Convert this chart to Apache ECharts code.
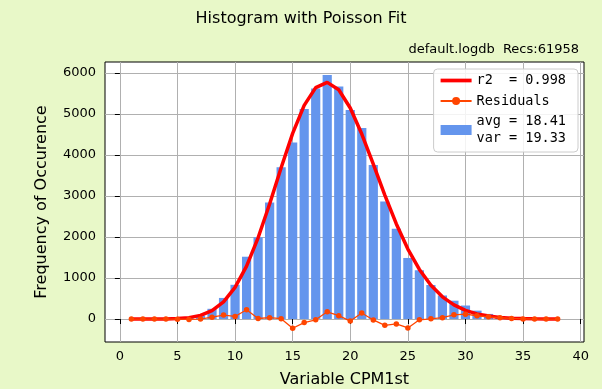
<!DOCTYPE html>
<html>
<head>
<meta charset="utf-8">
<script src="https://cdn.jsdelivr.net/npm/echarts@6/dist/echarts.min.js"></script>
<style>
html,body{margin:0;padding:0;background:#e8f8c8;overflow:hidden;}
#main{position:absolute;left:0;top:0;width:602px;height:389px;}
</style>
</head>
<body>
<div id="main"></div>
<script>
// Bin values (x)
const bins = [1,2,3,4,5,6,7,8,9,10,11,12,13,14,15,16,17,18,19,20,21,22,23,24,25,26,27,28,29,30,31,32,33,34,35,36,37,38];
// Histogram counts
const counts = [0,0,1,2,8,25,88,250,515,835,1520,1995,2840,3700,4305,5125,5625,5950,5675,5100,4660,3755,2870,2200,1490,1190,830,575,448,330,205,125,72,36,16,7,3,1];
// Poisson fit curve
const fitVals = [0.01,0.11,0.65,3.0,11,34,89,205,419,772,1292,1982,2806,3690,4529,5211,5644,5773,5593,5149,4513,3777,3023,2319,1708,1209,824,542,344,211,125,72,40,22,11.5,5.9,2.9,1.4];
// Residuals (counts - fit)
const residuals = [0,0,0,-1,-3,-9,-1,45,96,63,228,13,34,10,-224,-86,-19,177,82,-49,147,-22,-153,-119,-218,-19,6,33,104,119,80,53,32,14,4,1,0,0];
// Tick labels
const xTicks = [0,5,10,15,20,25,30,35,40];
const yTicks = [0,1000,2000,3000,4000,5000,6000];

const fitName = 'r2  = 0.998';
const resName = 'Residuals';
const barName = 'avg = 18.41\nvar = 19.33';

const chart = echarts.init(document.getElementById('main'), null, {renderer:'canvas', width:602, height:389});
const pair = (xs, ys) => xs.map((x,i)=>[x, ys[i]]);

chart.setOption({
  animation:false,
  backgroundColor:'#e8f8c8',
  title:[
    {text:'Histogram with Poisson Fit', left:'center', top:6,
     textStyle:{fontFamily:'DejaVu Sans', fontSize:16, fontWeight:'normal', color:'#000'}},
    {text:'default.logdb  Recs:61958', right:18, top:38,
     textStyle:{fontFamily:'DejaVu Sans', fontSize:13, fontWeight:'normal', color:'#000'}}
  ],
  grid:{left:105, right:18, top:62, bottom:47, show:true, borderColor:'#000', borderWidth:1, backgroundColor:'#fff',
        containLabel:false, outerBoundsMode:'none'},
  legend:{
    orient:'vertical', right:24, top:69,
    data:[{name:fitName, icon:'path://M0,0L30,0L30,3.6L0,3.6Z'}, resName, {name:barName, icon:'rect'}],
    backgroundColor:'rgba(255,255,255,0.85)', borderColor:'#cccccc', borderWidth:1, borderRadius:4,
    padding:[3,12,5,6], itemGap:3.5, itemWidth:31, itemHeight:10,
    textStyle:{fontFamily:'DejaVu Sans Mono', fontSize:13.5, color:'#000', lineHeight:17}
  },
  xAxis:{
    type:'value', min:-1.29, max:40.29, splitNumber:8,
    name:'Variable CPM1st', nameLocation:'middle', nameGap:30,
    nameTextStyle:{fontFamily:'DejaVu Sans', fontSize:16, color:'#000'},
    axisLine:{show:false},
    axisTick:{show:true, inside:false, length:5, lineStyle:{color:'#000'}, customValues:xTicks},
    axisLabel:{fontFamily:'DejaVu Sans', fontSize:13, color:'#000', margin:8, customValues:xTicks, formatter:v=>String(v)},
    splitLine:{show:true, lineStyle:{color:'#b0b0b0', width:1}}
  },
  yAxis:{
    type:'value', min:-560, max:6270, splitNumber:7,
    name:'Frequency of Occurence', nameLocation:'middle', nameGap:55,
    nameTextStyle:{fontFamily:'DejaVu Sans', fontSize:16, color:'#000'},
    axisLine:{show:false},
    axisTick:{show:true, inside:false, length:5, lineStyle:{color:'#000'}, customValues:yTicks},
    axisLabel:{fontFamily:'DejaVu Sans', fontSize:13, color:'#000', margin:9, customValues:yTicks, formatter:v=>String(v)},
    splitLine:{show:true, lineStyle:{color:'#b0b0b0', width:1}}
  },
  series:[
    {name:barName, type:'bar', data:pair(bins,counts), barWidth:9.2,
     itemStyle:{color:'#6495ED'}, z:2},
    {name:fitName, type:'line', data:pair(bins,fitVals), showSymbol:false, symbol:'none',
     lineStyle:{color:'#ff0000', width:3.5}, itemStyle:{color:'#ff0000'}, z:3},
    {name:resName, type:'line', data:pair(bins,residuals), symbol:'circle', symbolSize:5.5,
     lineStyle:{color:'#ff4500', width:1.3}, itemStyle:{color:'#ff4500'}, z:4}
  ]
});
</script>
</body>
</html>
